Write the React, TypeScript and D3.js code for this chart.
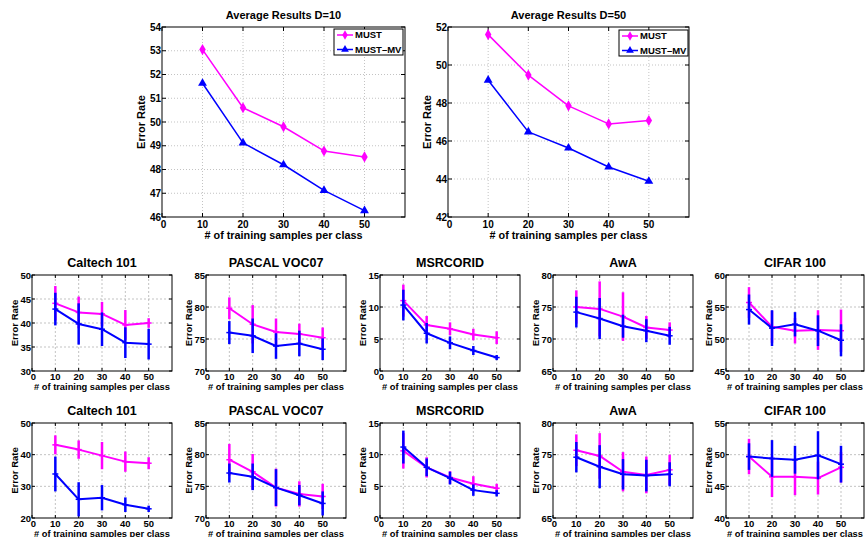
import React, { useEffect, useRef } from 'react';
import * as d3 from 'd3';

// x values and x ticks shared by every panel
const samples = [10, 20, 30, 40, 50];
const xTicks = [0, 10, 20, 30, 40, 50];

// average results (top row)
const avgD10Must = [53.05, 50.6, 49.8, 48.78, 48.53];
const avgD10MustMV = [51.63, 49.12, 48.2, 47.12, 46.27];
const avgD50Must = [51.6, 49.47, 47.85, 46.9, 47.08];
const avgD50MustMV = [49.2, 46.48, 45.63, 44.63, 43.88];
const avgD10Ticks = [46, 47, 48, 49, 50, 51, 52, 53, 54];
const avgD50Ticks = [42, 44, 46, 48, 50, 52];

// per dataset, D=10 (middle row)
const caltechD10Must = [44.1, 42.2, 41.9, 39.6, 40.0];
const caltechD10MustErr = [3.6, 3.3, 2.5, 3.1, 1.0];
const caltechD10MV = [42.9, 39.8, 38.7, 35.9, 35.6];
const caltechD10MVErr = [3.4, 4.3, 3.5, 3.2, 3.2];
const pascalD10Must = [79.8, 77.3, 76.1, 75.8, 75.2];
const pascalD10MustErr = [1.7, 3.0, 2.1, 1.6, 1.6];
const pascalD10MV = [76.0, 75.5, 73.9, 74.3, 73.4];
const pascalD10MVErr = [1.8, 2.7, 2.0, 2.0, 1.7];
const msrcD10Must = [11.0, 7.2, 6.6, 5.7, 5.2];
const msrcD10MustErr = [2.5, 1.4, 1.0, 0.9, 1.0];
const msrcD10MV = [10.3, 5.9, 4.4, 3.2, 2.1];
const msrcD10MVErr = [2.4, 1.6, 1.0, 0.7, 0.4];
const awaD10Must = [75.0, 74.7, 73.5, 71.8, 71.4];
const awaD10MustErr = [2.6, 4.3, 3.8, 1.8, 1.2];
const awaD10MV = [74.2, 73.2, 72.0, 71.3, 70.5];
const awaD10MVErr = [2.4, 3.2, 1.8, 1.8, 1.4];
const cifarD10Must = [55.7, 51.9, 51.3, 51.4, 51.3];
const cifarD10MustErr = [2.4, 2.5, 2.0, 3.1, 3.3];
const cifarD10MV = [54.6, 51.7, 52.3, 51.3, 49.8];
const cifarD10MVErr = [2.35, 2.8, 1.9, 2.4, 2.5];

// per dataset, D=50 (bottom row)
const caltechD50Must = [43.1, 41.6, 39.7, 37.8, 37.3];
const caltechD50MustErr = [3.0, 2.9, 4.3, 3.2, 1.9];
const caltechD50MV = [33.9, 25.9, 26.4, 24.2, 22.9];
const caltechD50MVErr = [5.5, 5.4, 4.0, 2.3, 1.0];
const pascalD50Must = [79.2, 77.3, 74.8, 73.8, 73.4];
const pascalD50MustErr = [2.5, 2.8, 3.0, 2.0, 2.0];
const pascalD50MV = [77.1, 76.5, 74.8, 73.6, 72.3];
const pascalD50MVErr = [1.5, 2.1, 2.9, 1.6, 1.9];
const msrcD50Must = [10.6, 8.0, 6.4, 5.4, 4.7];
const msrcD50MustErr = [2.8, 1.6, 1.0, 1.2, 0.7];
const msrcD50MV = [11.2, 8.0, 6.3, 4.4, 3.9];
const msrcD50MVErr = [2.6, 1.4, 1.0, 0.9, 0.5];
const awaD50Must = [75.7, 74.8, 72.3, 71.8, 72.6];
const awaD50MustErr = [2.5, 3.6, 3.1, 2.9, 2.4];
const awaD50MV = [74.6, 73.1, 71.9, 71.7, 71.9];
const awaD50MVErr = [2.4, 3.4, 2.4, 2.5, 1.9];
const cifarD50Must = [49.7, 46.5, 46.5, 46.3, 48.0];
const cifarD50MustErr = [2.8, 3.2, 2.9, 2.6, 2.4];
const cifarD50MV = [49.7, 49.4, 49.2, 49.9, 48.5];
const cifarD50MVErr = [2.1, 2.9, 2.2, 3.8, 2.9];

const caltechD10Ticks = [30, 35, 40, 45, 50];
const caltechD50Ticks = [20, 30, 40, 50];
const pascalTicks = [70, 75, 80, 85];
const msrcTicks = [0, 5, 10, 15];
const awaTicks = [65, 70, 75, 80];
const cifarD10Ticks = [45, 50, 55, 60];
const cifarD50Ticks = [40, 45, 50, 55];

const MAGENTA = '#ff00ff';
const BLUE = '#0000ff';
const FONT = '"Liberation Sans", Arial, Helvetica, sans-serif';

const bigPanels = [
  { title: 'Average Results D=10', must: avgD10Must, mv: avgD10MustMV, yTicks: avgD10Ticks, box: [162, 27, 405, 217], legend: [334, 29] },
  { title: 'Average Results D=50', must: avgD50Must, mv: avgD50MustMV, yTicks: avgD50Ticks, box: [448, 27, 689, 217], legend: [619, 30] },
];

const lefts = [32, 206, 380, 553, 726];
const rowTops = [[275, 371], [423, 518]];

const smallPanels = [
  { title: 'Caltech 101', must: caltechD10Must, mustErr: caltechD10MustErr, mv: caltechD10MV, mvErr: caltechD10MVErr, yTicks: caltechD10Ticks, col: 0, row: 0 },
  { title: 'PASCAL VOC07', must: pascalD10Must, mustErr: pascalD10MustErr, mv: pascalD10MV, mvErr: pascalD10MVErr, yTicks: pascalTicks, col: 1, row: 0 },
  { title: 'MSRCORID', must: msrcD10Must, mustErr: msrcD10MustErr, mv: msrcD10MV, mvErr: msrcD10MVErr, yTicks: msrcTicks, col: 2, row: 0 },
  { title: 'AwA', must: awaD10Must, mustErr: awaD10MustErr, mv: awaD10MV, mvErr: awaD10MVErr, yTicks: awaTicks, col: 3, row: 0 },
  { title: 'CIFAR 100', must: cifarD10Must, mustErr: cifarD10MustErr, mv: cifarD10MV, mvErr: cifarD10MVErr, yTicks: cifarD10Ticks, col: 4, row: 0 },
  { title: 'Caltech 101', must: caltechD50Must, mustErr: caltechD50MustErr, mv: caltechD50MV, mvErr: caltechD50MVErr, yTicks: caltechD50Ticks, col: 0, row: 1 },
  { title: 'PASCAL VOC07', must: pascalD50Must, mustErr: pascalD50MustErr, mv: pascalD50MV, mvErr: pascalD50MVErr, yTicks: pascalTicks, col: 1, row: 1 },
  { title: 'MSRCORID', must: msrcD50Must, mustErr: msrcD50MustErr, mv: msrcD50MV, mvErr: msrcD50MVErr, yTicks: msrcTicks, col: 2, row: 1 },
  { title: 'AwA', must: awaD50Must, mustErr: awaD50MustErr, mv: awaD50MV, mvErr: awaD50MVErr, yTicks: awaTicks, col: 3, row: 1 },
  { title: 'CIFAR 100', must: cifarD50Must, mustErr: cifarD50MustErr, mv: cifarD50MV, mvErr: cifarD50MVErr, yTicks: cifarD50Ticks, col: 4, row: 1 },
];

function drawAxes(svg, box, yTicks, big, title) {
  const [x0, y0, x1, y1] = box;
  const x = d3.scaleLinear().domain([0, 60]).range([x0, x1]);
  const y = d3.scaleLinear().domain([yTicks[0], yTicks[yTicks.length - 1]]).range([y1, y0]);
  const g = svg.append('g');
  const tl = big ? 4 : 3;

  g.append('rect').attr('x', x0).attr('y', y0).attr('width', x1 - x0).attr('height', y1 - y0).attr('fill', '#fff');

  // dotted grid
  const dash = big ? '1,2' : '2,2';
  g.selectAll('line.gx').data(xTicks.slice(1)).enter().append('line')
    .attr('x1', (d) => x(d)).attr('x2', (d) => x(d)).attr('y1', y0).attr('y2', y1)
    .attr('stroke', '#b4b4b4').attr('stroke-width', 0.8).attr('stroke-dasharray', dash);
  g.selectAll('line.gy').data(yTicks.slice(1, -1)).enter().append('line')
    .attr('x1', x0).attr('x2', x1).attr('y1', (d) => y(d)).attr('y2', (d) => y(d))
    .attr('stroke', '#b4b4b4').attr('stroke-width', 0.8).attr('stroke-dasharray', dash);

  // inward ticks on all four sides
  xTicks.forEach((t) => {
    g.append('line').attr('x1', x(t)).attr('x2', x(t)).attr('y1', y1).attr('y2', y1 - tl).attr('stroke', '#000');
    g.append('line').attr('x1', x(t)).attr('x2', x(t)).attr('y1', y0).attr('y2', y0 + tl).attr('stroke', '#000');
  });
  yTicks.forEach((t) => {
    g.append('line').attr('x1', x0).attr('x2', x0 + tl).attr('y1', y(t)).attr('y2', y(t)).attr('stroke', '#000');
    g.append('line').attr('x1', x1).attr('x2', x1 - tl).attr('y1', y(t)).attr('y2', y(t)).attr('stroke', '#000');
  });

  g.append('rect').attr('x', x0).attr('y', y0).attr('width', x1 - x0).attr('height', y1 - y0)
    .attr('fill', 'none').attr('stroke', '#000').attr('stroke-width', 1);

  const text = (tx, ty, s, size, anchor) =>
    g.append('text').attr('x', tx).attr('y', ty).text(s)
      .attr('font-family', FONT).attr('font-weight', 'bold').attr('font-size', size)
      .attr('text-anchor', anchor).attr('fill', '#000');

  const tickSize = big ? 10 : 9.5;
  xTicks.forEach((t) => text(x(t) + (t === 0 ? 1.5 : 0), y1 + (big ? 11 : 9), String(t), tickSize, 'middle'));
  yTicks.forEach((t) => text(x0 - 1, y(t) + 3.5, String(t), tickSize, 'end'));

  text((x0 + x1) / 2, y0 - 8, title, big ? 11 : 12.5, 'middle');
  text((x0 + x1) / 2, y1 + (big ? 22 : 18.5), '# of training samples per class', big ? 10.8 : 9.3, 'middle');
  const yl = text(0, 0, 'Error Rate', big ? 11 : 9.5, 'middle');
  const lx = x0 - (big ? 17 : 14);
  yl.attr('transform', `translate(${lx}, ${(y0 + y1) / 2}) rotate(-90)`);

  return { g, x, y };
}

function drawLine(g, x, y, values, color, width) {
  const line = d3.line().x((d, i) => x(samples[i])).y((d) => y(d));
  g.append('path').datum(values).attr('d', line).attr('fill', 'none')
    .attr('stroke', color).attr('stroke-width', width).attr('stroke-linejoin', 'round');
}

function drawErrorSeries(g, x, y, values, errors, color) {
  values.forEach((v, i) => {
    const cx = x(samples[i]);
    g.append('line').attr('x1', cx).attr('x2', cx).attr('y1', y(v - errors[i])).attr('y2', y(v + errors[i]))
      .attr('stroke', color).attr('stroke-width', 2.5);
  });
  drawLine(g, x, y, values, color, 2);
  values.forEach((v, i) => {
    const cx = x(samples[i]);
    g.append('line').attr('x1', cx - 3).attr('x2', cx + 3).attr('y1', y(v)).attr('y2', y(v))
      .attr('stroke', color).attr('stroke-width', 1.5);
  });
}

function drawMarkers(g, x, y, values, color, symbol, size) {
  const sym = d3.symbol().type(symbol).size(size);
  values.forEach((v, i) => {
    g.append('path').attr('d', sym()).attr('fill', color)
      .attr('transform', `translate(${x(samples[i])}, ${y(v)})`);
  });
}

function drawLegend(svg, pos) {
  const [lx, ly] = pos;
  const g = svg.append('g');
  g.append('rect').attr('x', lx).attr('y', ly).attr('width', 69).attr('height', 26)
    .attr('fill', '#fff').attr('stroke', '#000').attr('stroke-width', 1);
  const items = [
    { label: 'MUST', color: MAGENTA, symbol: d3.symbolDiamond },
    { label: 'MUST\u2013MV', color: BLUE, symbol: d3.symbolTriangle },
  ];
  items.forEach((it, i) => {
    const cy = ly + 6 + i * 14.5;
    g.append('line').attr('x1', lx + 3).attr('x2', lx + 19).attr('y1', cy).attr('y2', cy)
      .attr('stroke', it.color).attr('stroke-width', 1.5);
    g.append('path').attr('d', d3.symbol().type(it.symbol).size(26)()).attr('fill', it.color)
      .attr('transform', `translate(${lx + 11}, ${cy})`);
    g.append('text').attr('x', lx + 21).attr('y', cy + 3.3).text(it.label)
      .attr('font-family', FONT).attr('font-weight', 'bold').attr('font-size', 9.5);
  });
}

const App = () => {
  const ref = useRef(null);

  useEffect(() => {
    const svg = d3.select(ref.current);
    svg.selectAll('*').remove();

    bigPanels.forEach((p) => {
      const { g, x, y } = drawAxes(svg, p.box, p.yTicks, true, p.title);
      drawLine(g, x, y, p.must, MAGENTA, 1.5);
      drawMarkers(g, x, y, p.must, MAGENTA, d3.symbolDiamond, 36);
      drawLine(g, x, y, p.mv, BLUE, 1.5);
      drawMarkers(g, x, y, p.mv, BLUE, d3.symbolTriangle, 34);
      drawLegend(svg, p.legend);
    });

    smallPanels.forEach((p) => {
      const [top, bottom] = rowTops[p.row];
      const left = lefts[p.col];
      const box = [left, top, Math.min(left + 140, 864), bottom];
      const { g, x, y } = drawAxes(svg, box, p.yTicks, false, p.title);
      drawErrorSeries(g, x, y, p.must, p.mustErr, MAGENTA);
      drawErrorSeries(g, x, y, p.mv, p.mvErr, BLUE);
    });
  }, []);

  return (
    <div style={{ position: 'absolute', left: 0, top: 0, background: '#fff' }}>
      <svg ref={ref} width={865} height={537} style={{ display: 'block' }} />
    </div>
  );
};

export default App;
